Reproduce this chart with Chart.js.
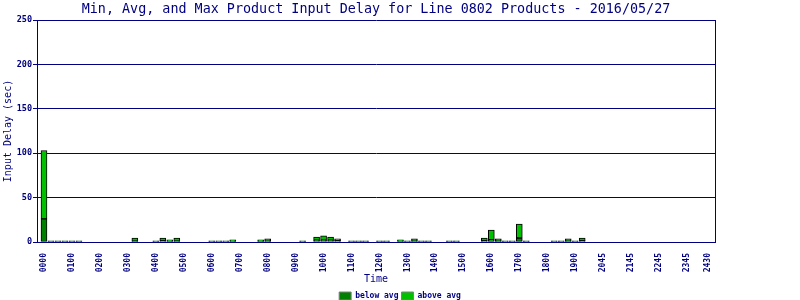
<!DOCTYPE html>
<html>
<head>
<meta charset="utf-8">
<script src="https://cdn.jsdelivr.net/npm/chart.js@4/dist/chart.umd.min.js"></script>
<style>
  html, body { margin: 0; padding: 0; background: #fff; }
  canvas { display: block; }
</style>
</head>
<body>
<canvas id="delay" width="800" height="300"></canvas>
<script>
// 15 minute slots, 96 per day (index = slot)
const tickSlots  = [0, 4, 8, 12, 16, 20, 24, 28, 32, 36, 40, 44, 48, 52, 56, 60, 64, 68, 72, 76, 80, 84, 88, 92, 95];
const tickLabels = ['0000', '0100', '0200', '0300', '0400', '0500', '0600', '0700', '0800', '0900',
                    '1000', '1100', '1200', '1300', '1400', '1500', '1600', '1700', '1800', '1900',
                    '2045', '2145', '2245', '2345', '2430'];

// below avg part (sec), 4 slots per row = 1 hour
const belowAvg = [
  26, 0.6, 0.6, 0.6,      0.6, 0.6, null, null,   null, null, null, null,   null, 1, null, null,
  0.6, 1.5, 1, 1,         null, null, null, null, 0.6, 0.6, 0.6, 1,         null, null, null, 1,
  1, null, null, null,    null, 0.6, null, 2,     2, 2, 1.5, null,          0.6, 0.6, 0.6, null,
  0.6, 0.6, null, 1,      0.6, 1, 0.6, 0.6,       null, null, 0.6, 0.6,     null, null, null, 1.5,
  2.5, 1, 0.6, 0.6,       4.5, 0.6, null, null,   null, 0.6, 0.6, 1,        0.6, 1.5, null, null,
  null, null, null, null, null, null, null, null, null, null, null, null,   null, null, null, null
];
// above avg part (sec), stacked on top
const aboveAvg = [
  77, 0.6, 0.6, 0.6,      0.6, 0.6, null, null,   null, null, null, null,   null, 3.5, null, null,
  0.6, 3, 1.5, 3.5,       null, null, null, null, 0.6, 0.6, 0.6, 1.5,       null, null, null, 1.5,
  2.5, null, null, null,  null, 0.6, null, 3.5,   5, 3.5, 2, null,          0.6, 0.6, 0.6, null,
  0.6, 0.6, null, 1.5,    0.6, 2.5, 0.6, 0.6,     null, null, 0.6, 0.6,     null, null, null, 3,
  11, 2.5, 0.6, 0.6,      15.8, 0.6, null, null,  null, 0.6, 0.6, 2.5,      0.6, 3, null, null,
  null, null, null, null, null, null, null, null, null, null, null, null,   null, null, null, null
];

const navy = '#000080';
const mono = 'DejaVu Sans Mono';

const toPoints = arr => arr.map((v, i) => ({ x: i, y: v }));

// title centred over the plot, not the canvas
const plotTitle = {
  id: 'plotTitle',
  afterDraw(chart) {
    const c = chart.ctx, a = chart.chartArea;
    c.save();
    c.font = '13.4px "' + mono + '"';
    c.fillStyle = navy;
    c.textAlign = 'center';
    c.textBaseline = 'middle';
    c.fillText('Min, Avg, and Max Product Input Delay for Line 0802 Products - 2016/05/27', (a.left + a.right) / 2, 10);
    c.restore();
  }
};

new Chart(document.getElementById('delay'), {
  type: 'bar',
  data: {
    datasets: [{
      label: 'below avg',
      data: toPoints(belowAvg),
      backgroundColor: '#008000',
      borderColor: '#000',
      borderWidth: 1,
      borderSkipped: false,
      barThickness: 6
    }, {
      label: 'above avg',
      data: toPoints(aboveAvg),
      backgroundColor: '#00c000',
      borderColor: '#000',
      borderWidth: 1,
      borderSkipped: false,
      barThickness: 6
    }]
  },
  options: {
    responsive: false,
    maintainAspectRatio: false,
    animation: false,
    layout: { padding: { top: 20, left: 0, right: 0, bottom: -10 } },
    plugins: {
      title: { display: false },
      tooltip: { enabled: false },
      legend: {
        position: 'bottom',
        labels: {
          boxWidth: 12,
          boxHeight: 8,
          padding: 3,
          color: navy,
          font: { family: mono, size: 8, weight: 'bold' },
          generateLabels(chart) {
            const items = Chart.defaults.plugins.legend.labels.generateLabels(chart);
            items.forEach(it => { it.strokeStyle = '#808080'; it.lineWidth = 1; });
            return items;
          }
        }
      }
    },
    scales: {
      x: {
        type: 'linear',
        stacked: true,
        offset: false,
        min: -1,
        max: 96,
        grid: { display: false },
        border: { display: true, color: navy },
        afterBuildTicks(scale) {
          scale.ticks = tickSlots.map(v => ({ value: v }));
        },
        afterFit(scale) { scale.height = 47; },
        ticks: {
          autoSkip: false,
          maxRotation: 90,
          minRotation: 90,
          padding: 3,
          color: navy,
          font: { family: mono, size: 8, weight: 'bold' },
          callback(value) {
            const k = tickSlots.indexOf(value);
            return k >= 0 ? tickLabels[k] : '';
          }
        },
        title: {
          display: true,
          text: 'Time',
          color: navy,
          padding: { top: 0, bottom: 4 },
          font: { family: mono, size: 10 }
        }
      },
      y: {
        stacked: true,
        min: 0,
        max: 250,
        afterFit(scale) { scale.width = 37; },
        grid: { color: navy, lineWidth: 1, tickLength: 4, tickColor: navy },
        border: { display: true, color: navy },
        ticks: {
          stepSize: 50,
          padding: 1,
          color: navy,
          font: { family: mono, size: 8.5, weight: 'bold' }
        },
        title: {
          display: true,
          text: 'Input Delay (sec)',
          color: navy,
          padding: { top: 2, bottom: 0 },
          font: { family: mono, size: 10 }
        }
      },
      yRight: {
        position: 'right',
        display: true,
        grid: { display: false },
        ticks: { display: false },
        border: { display: true, color: navy },
        afterFit(scale) { scale.width = 85; }
      }
    }
  },
  plugins: [plotTitle]
});
</script>
</body>
</html>
